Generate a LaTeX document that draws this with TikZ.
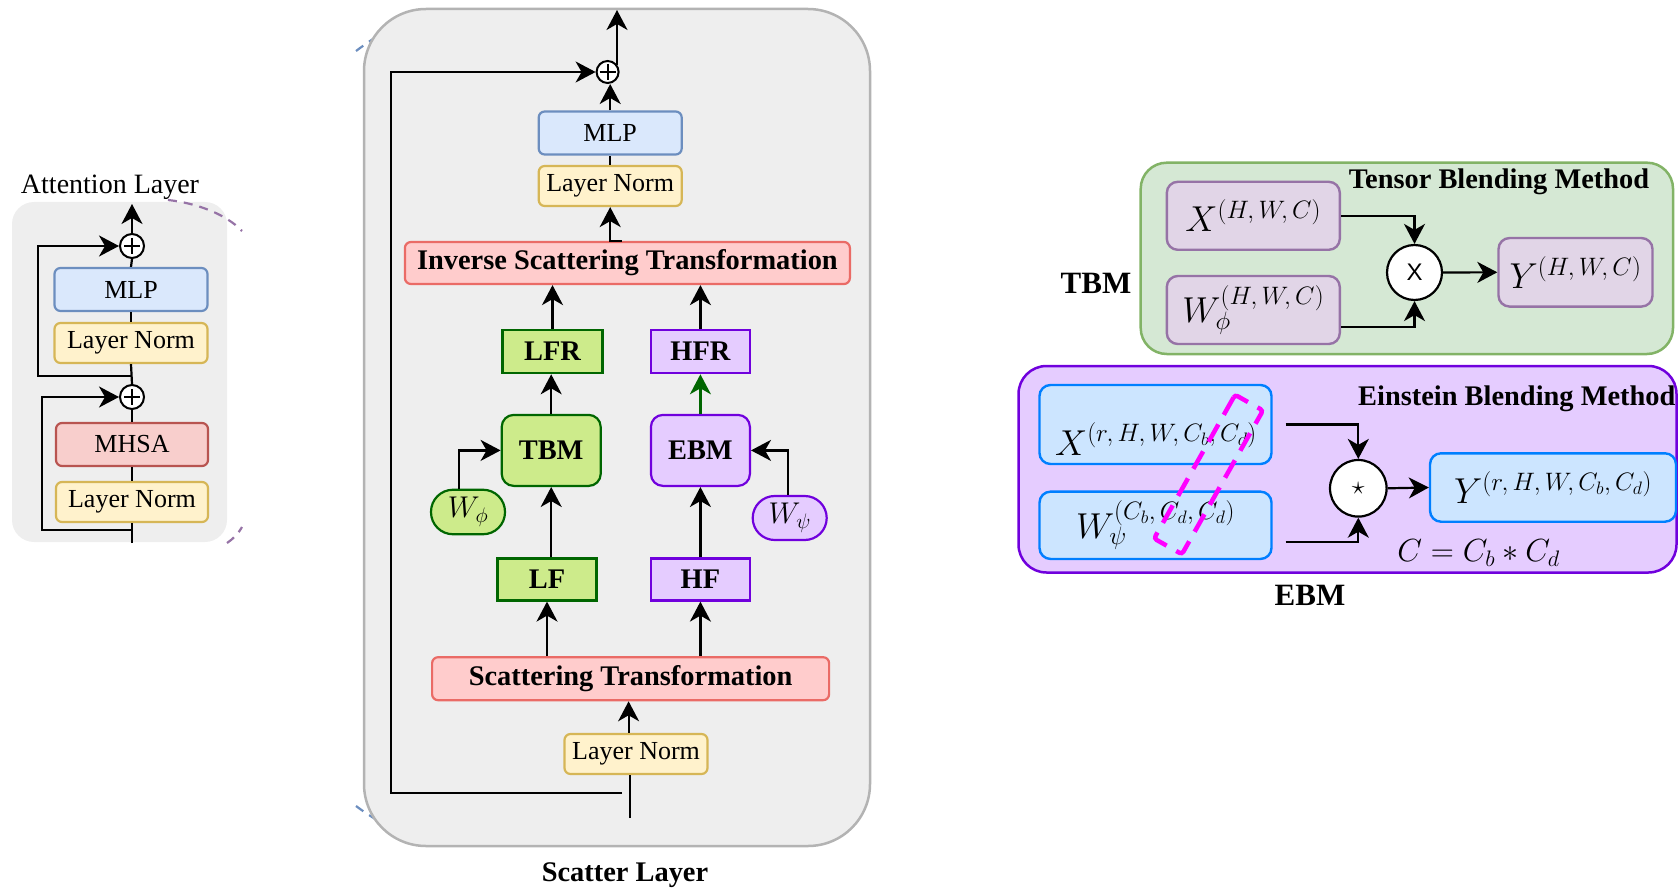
\RequirePackage{fix-cm}
\documentclass[tikz,border=0pt]{standalone}
\usepackage[no-math]{fontspec}
\setmainfont{Liberation Serif}
\newfontfamily\lsans{Liberation Sans}
\usetikzlibrary{arrows.meta}

\definecolor{pgray}{HTML}{EEEEEE}
\definecolor{pgrayb}{HTML}{B3B3B3}
\definecolor{bfill}{HTML}{DAE8FC}\definecolor{bdraw}{HTML}{6C8EBF}
\definecolor{yfill}{HTML}{FFF2CC}\definecolor{ydraw}{HTML}{D6B656}
\definecolor{rfill}{HTML}{F8CECC}\definecolor{rdraw}{HTML}{B85450}
\definecolor{sfill}{HTML}{FFCCCC}\definecolor{sdraw}{HTML}{EA6B66}
\definecolor{gfill}{HTML}{CDEB8B}\definecolor{gdraw}{HTML}{006600}
\definecolor{vfill}{HTML}{E5CCFF}\definecolor{vdraw}{HTML}{7000DD}
\definecolor{tpfill}{HTML}{D5E8D4}\definecolor{tpdraw}{HTML}{82B366}
\definecolor{mfill}{HTML}{E1D5E7}\definecolor{mdraw}{HTML}{9673A6}
\definecolor{cfill}{HTML}{CCE5FF}\definecolor{cdraw}{HTML}{007FFF}
\definecolor{hlmag}{HTML}{FF00FF}

\newcommand{\ftxt}{\fontsize{26}{30}\selectfont}
\newcommand{\fbold}{\fontsize{28.4}{32}\selectfont\bfseries}
\newcommand{\fmathA}{\fontsize{36}{40}\selectfont}
\newcommand{\fmathC}{\fontsize{32}{36}\selectfont}

\tikzset{
  box/.style={draw, line width=2.2pt, inner sep=0pt, rounded corners=6pt, align=center},
  bluebox/.style={box, fill=bfill, draw=bdraw, font=\ftxt},
  normbox/.style={box, fill=yfill, draw=ydraw, font=\ftxt},
  redbox/.style={box, fill=rfill, draw=rdraw, font=\ftxt},
  scatbox/.style={box, fill=sfill, draw=sdraw, font=\fbold},
  greenbox/.style={box, fill=gfill, draw=gdraw, font=\fbold, rounded corners=0pt},
  violetbox/.style={box, fill=vfill, draw=vdraw, font=\fbold, rounded corners=0pt},
  mauvebox/.style={box, fill=mfill, draw=mdraw, line width=2.4pt, rounded corners=11pt, font=\fmathA},
  skybox/.style={box, fill=cfill, draw=cdraw, line width=2.4pt, rounded corners=11pt, font=\fmathA},
  plus/.style={circle, draw, fill=white, line width=2pt, inner sep=0pt,
    path picture={\draw[line width=1.8pt]
      ([yshift=8pt]path picture bounding box.center) -- ([yshift=-8pt]path picture bounding box.center)
      ([xshift=-8pt]path picture bounding box.center) -- ([xshift=8pt]path picture bounding box.center);}},
  opcircle/.style={circle, draw, fill=white, line width=2.2pt, inner sep=0pt, minimum size=55pt},
  line/.style={line width=2.2pt},
  arr/.style={line width=2.2pt, -{Stealth[length=20pt,width=21pt,inset=6pt]}},
  garr/.style={arr, draw=gdraw, -{Stealth[length=20pt,width=21pt,inset=6pt,fill=gdraw]}},
  lbl/.style={inner sep=0pt},
  zoomarc/.style={dashed, dash pattern=on 9pt off 7pt, line width=2.2pt},
}

\begin{document}
\begin{tikzpicture}[x=1pt, y=-1pt]
\useasboundingbox (0,0) rectangle (1678,893);
\clip (0,0) rectangle (1678,893);

% ---------------- attention layer ----------------
\fill[pgray, rounded corners=22pt] (12,202) rectangle (227,542);
\draw[zoomarc, mdraw] (168,200) .. controls (196,203) and (226,214) .. (242,231);
\draw[zoomarc, mdraw] (227,543) .. controls (233,539) and (238,534) .. (242,527);

\node[lbl, font=\fontsize{28}{32}\selectfont] (attn) at (110,187) {Attention Layer};
\node[plus, minimum size=24pt] (c1) at (132,246) {};
\node[bluebox, minimum width=153pt, minimum height=43pt] (mlpa) at (131,289.5) {MLP};
\node[normbox, minimum width=153pt, minimum height=40pt] (lna) at (131,343) {Layer Norm};
\node[plus, minimum size=24pt] (c2) at (132,397) {};
\node[redbox, minimum width=152pt, minimum height=43pt] (mhsa) at (132,444.5) {MHSA};
\node[normbox, minimum width=152pt, minimum height=40pt] (lnb) at (132,502) {Layer Norm};

\coordinate (aout) at (132,204);
\coordinate (ain) at (132,543);
\coordinate (ar1) at (132,376);
\coordinate (ar1c) at (38,376);
\coordinate (ar2) at (132,530);
\coordinate (ar2c) at (42,530);

\draw[line] (ain) -- (lnb.south);
\draw[line] (lnb.north) -- (mhsa.south);
\draw[line] (mhsa.north) -- (c2.south);
\draw[line] (c2.north) -- (lna.south);
\draw[line] (lna.north) -- (mlpa.south);
\draw[line] (mlpa.north) -- (c1.south);
\draw[arr] (c1.north) -- (aout);
\draw[arr] (ar1) -- (ar1c) |- (c1.west);
\draw[arr] (ar2) -- (ar2c) |- (c2.west);

% ---------------- scatter layer ----------------
\draw[zoomarc, bdraw] (356,51) .. controls (368,42) and (380,34) .. (394,27);
\draw[zoomarc, bdraw] (356,806) .. controls (368,815) and (380,822) .. (394,830);
\draw[fill=pgray, draw=pgrayb, line width=2.5pt, rounded corners=62pt] (364,9) rectangle (870,846);

\node[plus, minimum size=22pt] (sc) at (607.6,72) {};
\node[bluebox, minimum width=143pt, minimum height=43pt] (smlp) at (610.2,133) {MLP};
\node[normbox, minimum width=143pt, minimum height=40pt] (sln) at (610.2,186) {Layer Norm};
\node[scatbox, minimum width=445pt, minimum height=42pt] (ist) at (627.4,263) {Inverse Scattering Transformation};
\node[greenbox, minimum width=100pt, minimum height=43pt] (lfr) at (552.5,351.7) {LFR};
\node[violetbox, minimum width=99pt, minimum height=43pt] (hfr) at (700.4,351.7) {HFR};
\node[greenbox, rounded corners=12pt, minimum width=99pt, minimum height=71pt] (tbm) at (551.2,450.4) {TBM};
\node[violetbox, rounded corners=12pt, minimum width=99pt, minimum height=71pt] (ebm) at (700.4,450.4) {EBM};
\node[box, fill=gfill, draw=gdraw, rounded corners=22pt, minimum width=74pt, minimum height=44.5pt,
      font=\fontsize{30}{34}\selectfont] (wphi) at (468,512) {$W_\phi$};
\node[box, fill=vfill, draw=vdraw, rounded corners=22pt, minimum width=74pt, minimum height=44pt,
      font=\fontsize{30}{34}\selectfont] (wpsi) at (789.7,518) {$W_\psi$};
\node[greenbox, minimum width=99pt, minimum height=42pt] (lf) at (547,579.5) {LF};
\node[violetbox, minimum width=99pt, minimum height=42pt] (hf) at (700.4,579.5) {HF};
\node[scatbox, minimum width=397pt, minimum height=43pt] (st) at (630.6,678.7) {Scattering Transformation};
\node[normbox, minimum width=143pt, minimum height=40pt] (slnb) at (636,754) {Layer Norm};
\node[lbl, font=\fbold] (scatname) at (625,875) {Scatter Layer};

\coordinate (sout) at (617,10);
\coordinate (sin) at (630,818);
\coordinate (sra) at (622,793);
\coordinate (srb) at (391,793);

\draw[line] (sin) -- (sin |- slnb.south);
\draw[arr] ([xshift=-7.4pt]slnb.north) -- ([xshift=-7.4pt]slnb.north |- st.south);
\draw[arr] (st.north -| lf) -- (lf.south);
\draw[arr] (st.north -| hf) -- (hf.south);
\draw[arr] (tbm.south |- lf.north) -- (tbm.south);
\draw[arr] (hf.north) -- (ebm.south);
\draw[arr] ([xshift=-9.2pt]wphi.north) |- (tbm.west);
\draw[arr] ([xshift=-1.4pt]wpsi.north) |- (ebm.east);
\draw[arr] (tbm.north) -- (tbm.north |- lfr.south);
\draw[garr] (ebm.north) -- (hfr.south);
\draw[arr] (lfr.north) -- (lfr.north |- ist.south);
\draw[arr] (hfr.north) -- (hfr.north |- ist.south);
\draw[arr] ([xshift=-5.7pt]ist.north) -| (sln.south);
\draw[line] (sln.north) -- (smlp.south);
\draw[arr] (smlp.north) -- (smlp.north |- sc.south);
\draw[arr] (sc.north east) -| (sout);
\draw[arr] (sra) -- (srb) |- (sc.west);

% ---------------- tensor blending method ----------------
\draw[fill=tpfill, draw=tpdraw, line width=2.5pt, rounded corners=26pt] (1140.7,162.7) rectangle (1673,354);
\node[lbl, font=\fbold] (ttitle) at (1499,182) {Tensor Blending Method};
\node[lbl, font=\fontsize{31}{34}\selectfont\bfseries] (tlabel) at (1096,283) {TBM};
\node[mauvebox, minimum width=173pt, minimum height=68pt] (tx) at (1253.3,215.8) {$X^{(H,\,W,\,C)}$};
\node[mauvebox, minimum width=173pt, minimum height=68pt] (tw) at (1253.3,310) {$W_\phi^{(H,\,W,\,C)}$};
\node[opcircle, font=\lsans\fontsize{24}{28}\selectfont] (tmul) at (1414.5,272.5) {X};
\node[mauvebox, minimum width=154pt, minimum height=68.5pt] (ty) at (1575.5,272.3) {$Y^{(H,\,W,\,C)}$};

\draw[arr] (tx.east) -| (tmul.north);
\draw[arr] ([yshift=-16.7pt]tw.east) -| (tmul.south);
\draw[arr] (tmul.east) -- (ty.west);

% ---------------- einstein blending method ----------------
\draw[fill=vfill, draw=vdraw, line width=2.5pt, rounded corners=28pt] (1018.5,366) rectangle (1676.5,572.5);
\node[lbl, font=\fbold, anchor=base west] (etitle) at (1358,405) {Einstein Blending Method};
\node[lbl, font=\fontsize{31}{34}\selectfont\bfseries] (elabel) at (1310,595) {EBM};
\node[skybox, minimum width=232pt, minimum height=79pt] (ex) at (1155.5,424.5) {};
\node[lbl, font=\fmathA, anchor=base] (exlab) at (1156,455) {$X^{(r,\,H,\,W,\,C_b,\,C_d)}$};
\node[skybox, minimum width=232pt, minimum height=67.3pt] (ew) at (1155.5,525.3) {$W_\psi^{(C_b,\,C_d,\,C_d)}$};
\node[opcircle, minimum size=56.6pt, font=\fontsize{26}{28}\selectfont] (estar) at (1358.3,488.3) {$\star$};
\node[skybox, minimum width=246pt, minimum height=68.4pt] (ey) at (1553,487.5) {$Y^{(r,\,H,\,W,\,C_b,\,C_d)}$};
\node[lbl, font=\fmathC, anchor=base] (eform) at (1478.5,561.7) {$C = C_b * C_d$};
\node[draw=hlmag, line width=4.5pt, dash pattern=on 20pt off 11pt, rounded corners=3pt,
      minimum width=165pt, minimum height=32pt, rotate=60.6, inner sep=0pt] (grp) at (1208.5,474.5) {};

\draw[arr] ([xshift=13pt]ex.east) -| (estar.north);
\draw[arr] ([xshift=13pt,yshift=-17pt]ew.east) -| (estar.south);
\draw[arr] (estar.east) -- (ey.west);
\end{tikzpicture}
\end{document}
